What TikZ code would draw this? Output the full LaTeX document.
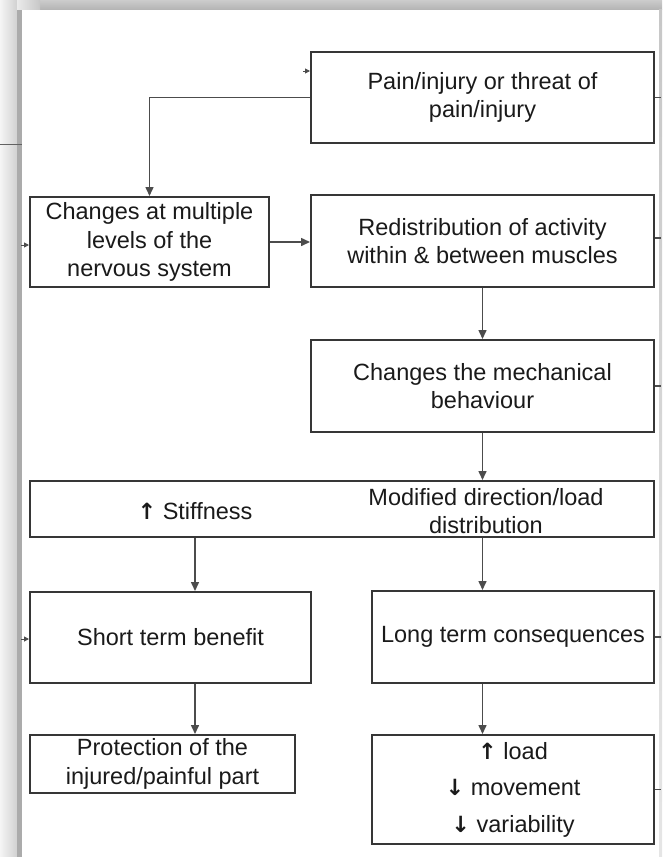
\documentclass[tikz,border=0pt]{standalone}
\usepackage{fontspec}
\setmainfont{Liberation Sans}
\newfontfamily\arrowfont{DejaVu Sans}[Scale=0.95]
\newcommand{\upar}{{\arrowfont\bfseries ↑}}
\newcommand{\dnar}{{\arrowfont\bfseries ↓}}
\usetikzlibrary{arrows.meta,calc}
\definecolor{boxc}{HTML}{363636}
\definecolor{arrc}{HTML}{4C4C4C}
\definecolor{txtc}{HTML}{1A1A1A}
\begin{document}
\begin{tikzpicture}[x=1pt,y=-1pt,
  box/.style={draw=boxc,line width=2pt,inner sep=0pt,align=center,text=txtc,
    font=\fontsize{23.5}{28.5}\selectfont},
  lbl/.style={inner sep=0pt,align=center,text=txtc,font=\fontsize{23.5}{28.5}\selectfont},
  conn/.style={draw=arrc,line width=1.5pt,-{Triangle[length=9pt,width=8pt]}},
  stub/.style={draw=arrc,line width=1.3pt},
  stubtip/.style={draw=arrc,line width=1pt,-{Triangle[length=5pt,width=5pt]}}]
\useasboundingbox (0,0) rectangle (662,857);
\fill[white] (0,0) rectangle (662,857);
% window frame
\shade[left color=black!4,right color=black!18] (0,0) rectangle (17,857);
\fill[black!33] (17,0) rectangle (22,857);
\shade[top color=black!20,bottom color=black!29] (22,0) rectangle (662,9);
\shade[left color=black!8,right color=black!22] (17,0) rectangle (40,9);
\shade[top color=black!22,bottom color=black!10] (659,9) rectangle (662,857);
\draw[black!62,line width=1pt] (0,144) -- (22,144);

% boxes
\node[box,minimum width=343pt,minimum height=91pt] (pain) at (482.5,97.5)
  {Pain/injury or threat of\\pain/injury};
\node[box,minimum width=239pt,minimum height=90pt] (chg) at (149.5,242)
  {Changes at multiple\\levels of the\\nervous system};
\node[box,minimum width=343pt,minimum height=92pt] (redis) at (482.5,241)
  {Redistribution of activity\\within \& between muscles};
\node[box,minimum width=343pt,minimum height=92pt] (mech) at (482.5,386)
  {Changes the mechanical\\behaviour};
\node[box,minimum width=624pt,minimum height=56pt] (wide) at (342,509) {};
\node[lbl] (stiff) at (195,511) {\upar\ Stiffness};
\node[lbl] (modif) at (486,511) {Modified direction/load\\distribution};
\node[box,minimum width=281pt,minimum height=91pt] (short) at (170.5,637.5)
  {Short term benefit};
\node[box,minimum width=282pt,minimum height=92pt] (long) at (513,637)
  {Long term consequences};
\node[box,minimum width=265pt,minimum height=58pt] (prot) at (162.5,764)
  {Protection of the\\injured/painful part};
\node[box,minimum width=282pt,minimum height=109pt,
  font=\fontsize{23.5}{36.5}\selectfont] (effects) at (513,789.5)
  {\upar\ load\\\dnar\ movement\\\dnar\ variability};

% connectors
\draw[conn] (pain.west) -| (chg.north);
\draw[conn] (chg.east) -- (chg.east -| redis.west);
\draw[conn] (redis.south) -- (mech.north);
\draw[conn] (mech.south) -- (mech.south |- wide.north);
\draw[conn] (stiff |- wide.south) -- (stiff |- short.north);
\draw[conn] (mech.south |- wide.south) -- (mech.south |- long.north);
\draw[conn] (stiff |- short.south) -- (stiff |- prot.north);
\draw[conn] (mech.south |- long.south) -- (mech.south |- effects.north);

% cut-off connector ends at the edges
\coordinate (inA) at (303,71);
\coordinate (inB) at (21,245);
\coordinate (inC) at (21,639);
\draw[stubtip] (inA) -- (inA -| pain.west);
\draw[stubtip] (inB) -- (inB -| chg.west);
\draw[stubtip] (inC) -- (inC -| short.west);
\coordinate (outA) at ($(pain.east)+(6,0)$);
\coordinate (outB) at ($(redis.east)+(6,-3)$);
\coordinate (outC) at ($(mech.east)+(6,0)$);
\coordinate (outD) at ($(long.east)+(6,0)$);
\coordinate (outE) at ($(effects.east)+(6,0)$);
\draw[stub] (pain.east) -- (outA);
\draw[stub] (outB -| redis.east) -- (outB);
\draw[stub] (mech.east) -- (outC);
\draw[stub] (long.east) -- (outD);
\draw[stub] (effects.east) -- (outE);
\end{tikzpicture}
\end{document}
